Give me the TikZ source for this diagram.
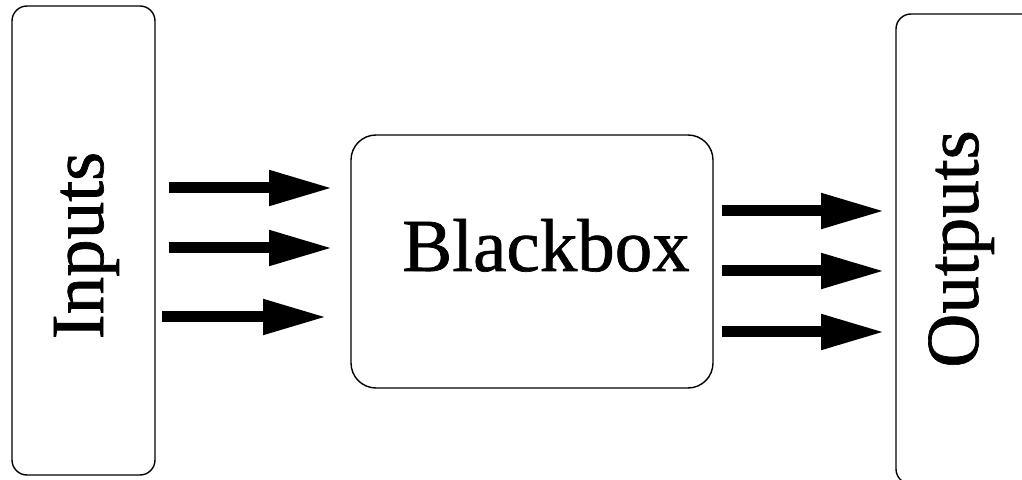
\documentclass[tikz,border=0pt]{standalone}
\usepackage{fontspec}
\setmainfont[FakeBold=0.9]{Liberation Serif}
\usetikzlibrary{arrows.meta}
\begin{document}
\begin{tikzpicture}[x=1bp,y=-1bp,
  box/.style={draw=black,line width=1.4bp,rounded corners=#1,inner sep=0pt},
  lbl/.style={inner sep=0pt,font=\fontsize{75bp}{80bp}\selectfont},
  bigarrow/.style={line width=11bp,-{Triangle[length=64bp,width=33bp]}}]
\useasboundingbox (0,0) rectangle (1022,480);
\clip (0,0) rectangle (1022,480);
\draw[box=15bp] (12,6) rectangle (155,475);
\draw[box=25bp] (351,135) rectangle (713,388);
\draw[box=15bp] (896,14) rectangle (1060,484);
\node[lbl,rotate=90,anchor=base] (in) at (103,245.5) {Inputs};
\node[lbl,anchor=base] (bb) at (546,271) {Blackbox};
\node[lbl,rotate=90,anchor=base] (out) at (978,249) {Outputs};
\coordinate (a1s) at (169,188); \coordinate (a1e) at (333,188);
\coordinate (a2s) at (169,248); \coordinate (a2e) at (333,248);
\coordinate (a3s) at (162,317); \coordinate (a3e) at (327,317);
\coordinate (b1s) at (722,211); \coordinate (b1e) at (885,211);
\coordinate (b2s) at (722,271); \coordinate (b2e) at (885,271);
\coordinate (b3s) at (722,332); \coordinate (b3e) at (885,332);
\draw[bigarrow] (a1s) -- (a1e);
\draw[bigarrow] (a2s) -- (a2e);
\draw[bigarrow] (a3s) -- (a3e);
\draw[bigarrow] (b1s) -- (b1e);
\draw[bigarrow] (b2s) -- (b2e);
\draw[bigarrow] (b3s) -- (b3e);
\end{tikzpicture}
\end{document}
